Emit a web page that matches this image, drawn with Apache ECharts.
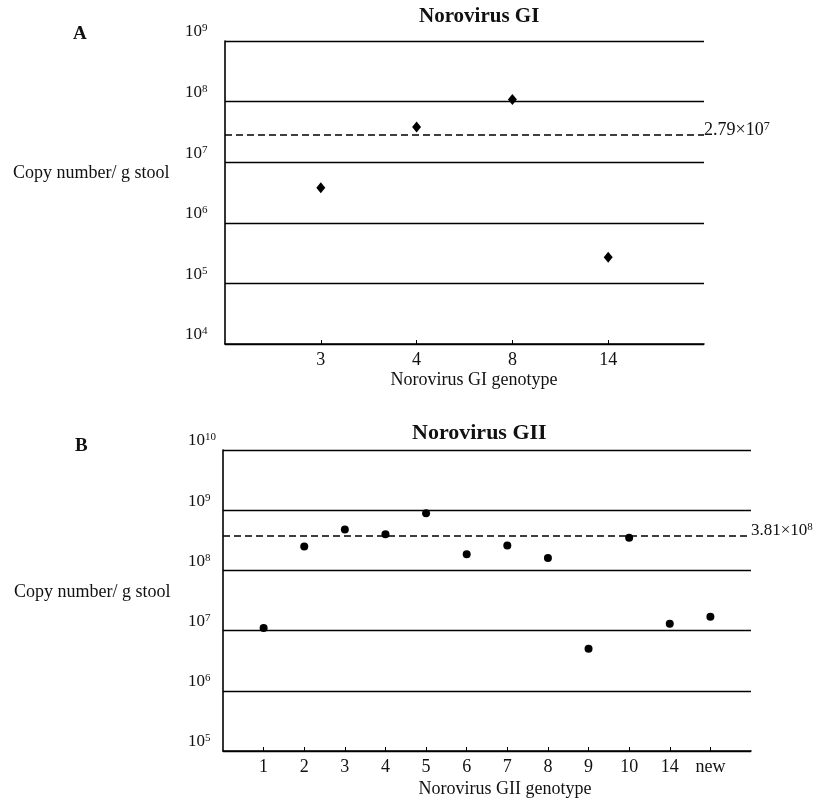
<!DOCTYPE html>
<html>
<head>
    <meta charset="utf-8">
    <title>Norovirus copy number</title>
    <script src="https://cdn.jsdelivr.net/npm/echarts@6/dist/echarts.min.js"></script>
    <style>
        html, body { margin: 0; padding: 0; background: #fff; }
    </style>
</head>
<body>
<div id="main" style="width: 819px;height:801px;"></div>
<script type="text/javascript">
    // GI panel data
    var giGenotypes = ['3', '4', '8', '14'];
    var giValues = [3.8e6, 3.8e7, 1.08e8, 2.7e5];
    var giMean = 2.79e7;

    // GII panel data
    var giiGenotypes = ['1', '2', '3', '4', '5', '6', '7', '8', '9', '10', '14', 'new'];
    var giiValues = [1.1e7, 2.5e8, 4.8e8, 4.0e8, 8.9e8, 1.85e8, 2.6e8, 1.6e8, 5.0e6, 3.5e8, 1.3e7, 1.7e7];
    var giiMean = 3.81e8;

    var serif = 'Liberation Serif';

    function toPairs(vals) {
        var out = [];
        for (var i = 0; i < vals.length; i++) {
            out.push([i + 1, vals[i]]);
        }
        return out;
    }
    function positions(n) {
        var out = [];
        for (var i = 1; i <= n; i++) out.push(i);
        return out;
    }
    function powLabel(v) {
        var e = Math.round(Math.log(v) / Math.LN10);
        return '{b|10}{s|' + e + '}';
    }
    function richPow(size, supSize) {
        return {
            b: { fontFamily: serif, fontSize: size, color: '#111' },
            s: { fontFamily: serif, fontSize: supSize, color: '#111', verticalAlign: 'top', padding: [0, 0, 7, 0] }
        };
    }

    function xAxisFor(gridIndex, cats, nameText, namePad, nameGap) {
        return {
            gridIndex: gridIndex,
            type: 'value',
            min: 0,
            max: cats.length + 1,
            interval: 1,
            name: nameText,
            nameLocation: 'middle',
            nameGap: nameGap,
            nameTextStyle: { fontFamily: serif, fontSize: 18, color: '#111', padding: namePad },
            axisLine: { lineStyle: { color: '#000', width: 1.6 } },
            axisTick: { show: true, inside: true, length: 4, customValues: positions(cats.length), lineStyle: { color: '#000' } },
            axisLabel: {
                customValues: positions(cats.length),
                margin: 7,
                fontFamily: serif, fontSize: 18, color: '#111',
                formatter: function (v) { return cats[v - 1] || ''; }
            },
            splitLine: { show: false }
        };
    }
    function yAxisFor(gridIndex, min, max, margin) {
        return {
            gridIndex: gridIndex,
            type: 'log',
            logBase: 10,
            min: min,
            max: max,
            axisLine: { show: true, lineStyle: { color: '#000', width: 1.6 } },
            axisTick: { show: false },
            axisLabel: {
                align: 'left',
                verticalAlign: 'bottom',
                margin: margin,
                formatter: powLabel,
                rich: richPow(17, 11)
            },
            splitLine: { show: true, lineStyle: { color: '#000', width: 1.3 } }
        };
    }
    function meanLine(val, mant, exp, size) {
        return {
            silent: true,
            symbol: 'none',
            lineStyle: { type: [7, 4], color: '#000', width: 1.5 },
            label: {
                position: 'end',
                distance: 0,
                padding: [0, 0, 10, 0],
                formatter: '{b|' + mant + '×10}{s|' + exp + '}',
                rich: richPow(size, size - 6)
            },
            data: [{ yAxis: val }]
        };
    }

    var myChart = echarts.init(document.getElementById('main'));

    var option = {
        backgroundColor: '#fff',
        animation: false,
        title: [
            { text: 'A', left: 68, top: 20, textStyle: { fontFamily: serif, fontSize: 19, fontWeight: 'bold', color: '#111' } },
            { text: 'Norovirus GI', left: 414, top: 1, textStyle: { fontFamily: serif, fontSize: 21, fontWeight: 'bold', color: '#111' } },
            { text: 'Copy number/ g stool', left: 8, top: 159, textStyle: { fontFamily: serif, fontSize: 18, fontWeight: 'normal', color: '#111' } },
            { text: 'B', left: 70, top: 432, textStyle: { fontFamily: serif, fontSize: 19, fontWeight: 'bold', color: '#111' } },
            { text: 'Norovirus GII', left: 407, top: 417, textStyle: { fontFamily: serif, fontSize: 22, fontWeight: 'bold', color: '#111' } },
            { text: 'Copy number/ g stool', left: 9, top: 578, textStyle: { fontFamily: serif, fontSize: 18, fontWeight: 'normal', color: '#111' } }
        ],
        grid: [
            { left: 225, top: 41, right: 115, bottom: 457 },
            { left: 223, top: 450, right: 68, bottom: 50 }
        ],
        xAxis: [
            xAxisFor(0, giGenotypes, 'Norovirus GI genotype', [0, 0, 0, 19], 27),
            xAxisFor(1, giiGenotypes, 'Norovirus GII genotype', [0, 0, 0, 36], 29)
        ],
        yAxis: [
            yAxisFor(0, 1e4, 1e9, 40),
            yAxisFor(1, 1e5, 1e10, 35)
        ],
        series: [
            {
                name: 'GI',
                type: 'scatter',
                xAxisIndex: 0,
                yAxisIndex: 0,
                symbol: 'diamond',
                symbolSize: [9, 11],
                itemStyle: { color: '#000', opacity: 1 },
                data: toPairs(giValues),
                markLine: meanLine(giMean, '2.79', '7', 18)
            },
            {
                name: 'GII',
                type: 'scatter',
                xAxisIndex: 1,
                yAxisIndex: 1,
                symbol: 'circle',
                symbolSize: 8,
                itemStyle: { color: '#000', opacity: 1 },
                data: toPairs(giiValues),
                markLine: meanLine(giiMean, '3.81', '8', 17)
            }
        ]
    };

    myChart.setOption(option);
</script>
</body>
</html>
